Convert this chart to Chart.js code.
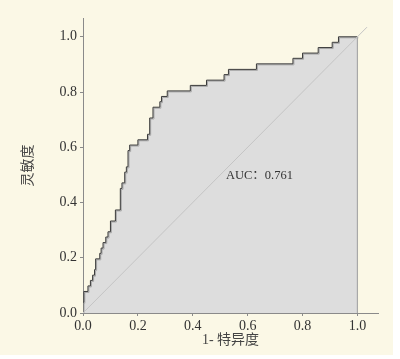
<!DOCTYPE html>
<html>
<head>
<meta charset="utf-8">
<script src="https://cdn.jsdelivr.net/npm/chart.js@4"></script>
<style>
  body { margin: 0; background: #fff; }
  #wrap { position: relative; width: 400px; height: 359px; }
  #fondo { position: absolute; left: 0; top: 0; width: 393px; height: 355px; background: #fbf8e6; }
  #roc { position: absolute; left: 0; top: 0; }
</style>
</head>
<body>
<div id="wrap">
  <div id="fondo"></div>
  <canvas id="roc" width="400" height="359"></canvas>
</div>
<script>
// Curva ROC: 1 - especificidad (x) y sensibilidad (y)
const rocX = [0, 0, 0.003, 0.018, 0.027, 0.035, 0.042, 0.046, 0.061, 0.066,
  0.073, 0.083, 0.091, 0.100, 0.118, 0.136, 0.142, 0.152, 0.158, 0.164,
  0.170, 0.200, 0.235, 0.243, 0.255, 0.280, 0.286, 0.307, 0.391, 0.450,
  0.514, 0.530, 0.632, 0.765, 0.800, 0.857, 0.908, 0.931, 1.000];
const rocY = [0, 0.039, 0.078, 0.098, 0.118, 0.137, 0.157, 0.196, 0.216, 0.235,
  0.255, 0.275, 0.294, 0.333, 0.373, 0.451, 0.471, 0.510, 0.529, 0.588,
  0.608, 0.627, 0.647, 0.706, 0.745, 0.765, 0.784, 0.804, 0.824, 0.843,
  0.863, 0.882, 0.902, 0.922, 0.941, 0.961, 0.980, 1.000, 1.000];

// Línea de referencia y borde derecho
const diagX = [0, 1.035];
const diagY = [0, 1.035];
const edgeX = [1, 1];
const edgeY = [1, 0];

// Ticks de los ejes
const xTicks = [0, 0.2, 0.4, 0.6, 0.8, 1.0];
const yTicks = [0, 0.2, 0.4, 0.6, 0.8, 1.0];

const xTitle = "1- 特异度";
const yTitle = "灵敏度";
const aucLabel = "AUC：0.761";
const aucPos = [0.643, 0.496];

const toPoints = (xs, ys) => xs.map((x, i) => ({ x, y: ys[i] }));

const serif = "'Liberation Serif', 'Noto Sans CJK SC', serif";

// Sombra gris desplazada bajo la curva ROC
const shadowPlugin = {
  id: "rocShadow",
  beforeDatasetDraw(chart, args) {
    if (args.index !== 0) return;
    const ctx = chart.ctx;
    ctx.save();
    ctx.shadowColor = "#a8a8a8";
    ctx.shadowOffsetX = 1;
    ctx.shadowOffsetY = 1;
    ctx.shadowBlur = 0;
  },
  afterDatasetDraw(chart, args) {
    if (args.index !== 0) return;
    chart.ctx.restore();
  },
};

// Texto del AUC en coordenadas de datos
const aucPlugin = {
  id: "aucText",
  afterDatasetsDraw(chart) {
    const { ctx, scales } = chart;
    ctx.save();
    ctx.font = "12.5px " + serif;
    ctx.fillStyle = "#333";
    ctx.textAlign = "center";
    ctx.textBaseline = "middle";
    ctx.fillText(aucLabel, scales.x.getPixelForValue(aucPos[0]), scales.y.getPixelForValue(aucPos[1]));
    ctx.restore();
  },
};

new Chart(document.getElementById("roc"), {
  type: "scatter",
  data: {
    datasets: [
      {
        data: toPoints(rocX, rocY),
        showLine: true,
        stepped: true,
        borderColor: "#3a3a3a",
        borderWidth: 1,
        backgroundColor: "#dddddd",
        fill: "origin",
        pointRadius: 0,
        order: 3,
      },
      {
        data: toPoints(edgeX, edgeY),
        showLine: true,
        borderColor: "#a8a8a8",
        borderWidth: 1.2,
        pointRadius: 0,
        order: 2,
      },
      {
        data: toPoints(diagX, diagY),
        showLine: true,
        borderColor: "#c4c4c4",
        borderWidth: 1,
        pointRadius: 0,
        order: 1,
      },
    ],
  },
  options: {
    responsive: false,
    animation: false,
    devicePixelRatio: 1,
    layout: { padding: { left: 0, top: 18, right: 22, bottom: 0 } },
    plugins: {
      legend: { display: false },
      tooltip: { enabled: false },
      filler: { drawTime: "beforeDatasetsDraw" },
    },
    scales: {
      x: {
        type: "linear",
        min: 0,
        max: 1.075,
        afterFit: (s) => { s.height = 46; },
        afterBuildTicks: (s) => { s.ticks = xTicks.map((v) => ({ value: v })); },
        border: { color: "#8a8a8a", width: 1 },
        grid: { drawOnChartArea: false, drawTicks: true, tickLength: 3, color: "#8a8a8a" },
        ticks: {
          color: "#333",
          font: { family: serif, size: 14 },
          padding: 2,
          maxRotation: 0,
          callback: (v) => Number(v).toFixed(1),
        },
        title: {
          display: true,
          text: xTitle,
          color: "#444",
          font: { family: serif, size: 14, lineHeight: 1.2 },
          padding: { top: 0, bottom: 10 },
        },
      },
      y: {
        type: "linear",
        min: 0,
        max: 1.068,
        afterFit: (s) => { s.width = 83; },
        afterBuildTicks: (s) => { s.ticks = yTicks.map((v) => ({ value: v })); },
        border: { color: "#8a8a8a", width: 1 },
        grid: { drawOnChartArea: false, drawTicks: true, tickLength: 3, color: "#8a8a8a" },
        ticks: {
          color: "#333",
          font: { family: serif, size: 14 },
          padding: 3,
          callback: (v) => Number(v).toFixed(1),
        },
        title: {
          display: true,
          text: yTitle,
          color: "#444",
          font: { family: serif, size: 14, lineHeight: 1.2 },
          padding: { top: 20, bottom: 0 },
        },
      },
    },
  },
  plugins: [shadowPlugin, aucPlugin],
});
</script>
</body>
</html>
